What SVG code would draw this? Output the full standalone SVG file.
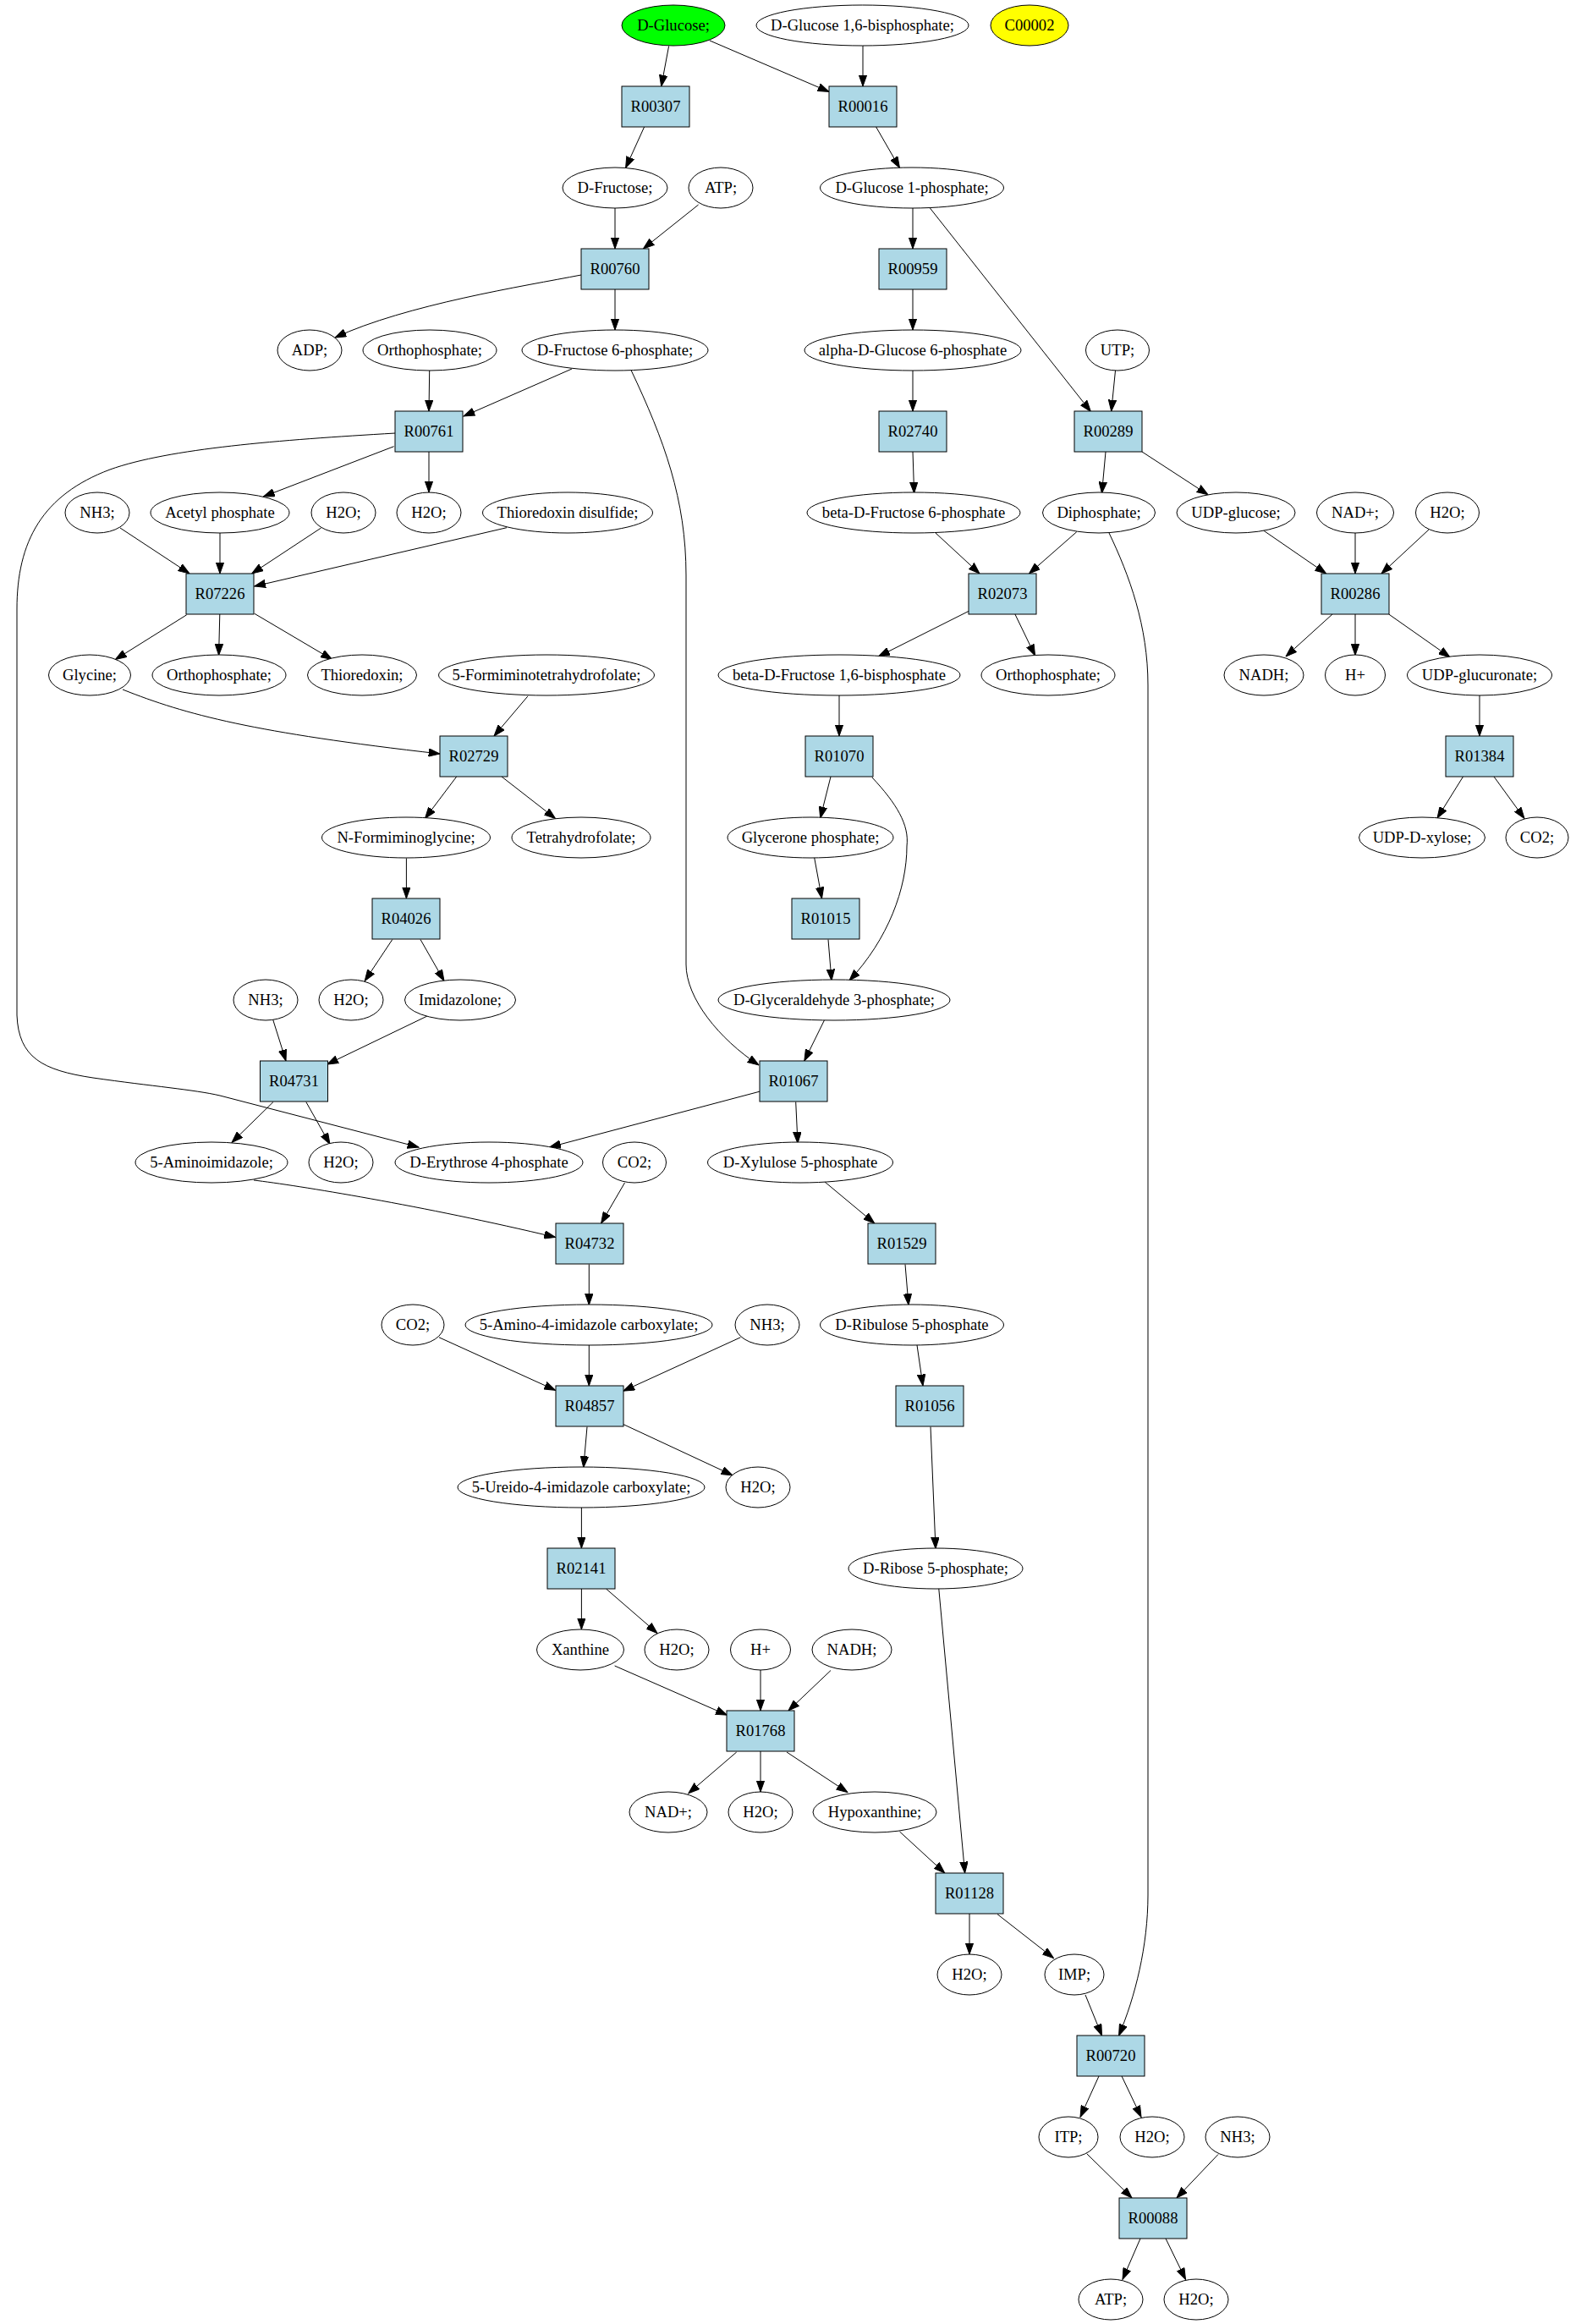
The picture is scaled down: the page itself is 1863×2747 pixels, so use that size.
<svg xmlns="http://www.w3.org/2000/svg" width="1863" height="2747" viewBox="0 0 1863 2747">
<style>
.node ellipse{fill:#ffffff;stroke:#000000;stroke-width:1}
.node rect{fill:#add8e6;stroke:#000000;stroke-width:1}
.node text{font-family:"Liberation Serif","Times New Roman",serif;font-size:18.6px;text-anchor:middle;fill:#000000}
#edges path{fill:none;stroke:#000000;stroke-width:1;marker-end:url(#ah)}
</style>
<defs>
<marker id="ah" markerWidth="14" markerHeight="10" refX="13.3" refY="5" orient="auto" markerUnits="userSpaceOnUse">
<path d="M0,0.3 L13.3,5 L0,9.7 z" fill="#000000" stroke="#000000" stroke-width="1"/>
</marker>
</defs>
<rect x="0" y="0" width="1863" height="2747" fill="#ffffff"/>
<g id="edges">
<path d="M790.6,54.5 L781.7,102"/>
<path d="M839,48 L980,108.5"/>
<path d="M1020,54 L1020,102"/>
<path d="M761.6,150 L739.6,198.5"/>
<path d="M1035.6,150 L1063.5,198.5"/>
<path d="M727,246 L727,294"/>
<path d="M825.6,242 L760.4,294"/>
<path d="M1079,246 L1079,294"/>
<path d="M1099,245.5 L1289.4,486.5"/>
<path d="M687,325 C620,338 480,360 396,399"/>
<path d="M727,342 L727,390"/>
<path d="M1079,342 L1079,390"/>
<path d="M1318.5,438 L1313.7,486"/>
<path d="M507.7,438 L507,486"/>
<path d="M676,436 L548,492"/>
<path d="M746,437.5 C785,520 811,590 811,680 L811,1140 C811,1180 850,1228 897,1259"/>
<path d="M1079,438 L1079,486"/>
<path d="M465.6,527.7 L311.4,587"/>
<path d="M507,534 L507,582"/>
<path d="M467.4,512 C330,520 200,530 130,555 C50,585 20,640 20,720 L20,1200 C22,1250 50,1265 110,1274 C180,1284 230,1288 260,1295 L495,1356"/>
<path d="M1079,534 L1080.6,583"/>
<path d="M1307,534 L1302.5,583"/>
<path d="M1350,534 L1428,584.8"/>
<path d="M142,624 L224,678"/>
<path d="M260,630 L260,678"/>
<path d="M379.6,624 L297.7,678"/>
<path d="M599,623.7 L300.7,693"/>
<path d="M1106,630 L1158,678"/>
<path d="M1272.8,628.6 L1216.5,678"/>
<path d="M1310.8,629.5 C1335,680 1357,740 1357,810 L1357,2240 C1357,2300 1342,2360 1322.6,2406"/>
<path d="M1493.5,627 L1567.6,678"/>
<path d="M1602,630 L1602,678"/>
<path d="M1689,626 L1633,678"/>
<path d="M220.6,726.8 L136.4,779.5"/>
<path d="M259.8,726 L258.6,774.5"/>
<path d="M301,725.4 L392.6,779.5"/>
<path d="M1145.3,722.3 L1038.5,775.9"/>
<path d="M1199.9,726 L1223.6,775"/>
<path d="M1575,726 L1520,775.9"/>
<path d="M1602,726 L1602,774.5"/>
<path d="M1641.7,726 L1714,776.8"/>
<path d="M145,815 C220,845 300,866 520,891"/>
<path d="M624,822.8 L584,870"/>
<path d="M992,821.4 L992,870"/>
<path d="M1749,821.4 L1749,870"/>
<path d="M539.7,918 L502.4,967.5"/>
<path d="M593,918 L656.6,967.5"/>
<path d="M982,918 L969.7,967"/>
<path d="M1030.8,918.8 C1060,950 1075,975 1072,1000 C1072,1050 1050,1110 1004,1159"/>
<path d="M1729.5,918 L1699,967"/>
<path d="M1766,918 L1802,967.5"/>
<path d="M480.4,1014.5 L480.4,1062"/>
<path d="M962.6,1013.4 L971.5,1062"/>
<path d="M463.8,1110.5 L431.2,1159.5"/>
<path d="M497,1110.5 L525,1159.5"/>
<path d="M979,1110.5 L983,1159"/>
<path d="M322.6,1205 L338,1254"/>
<path d="M505,1201 L386.7,1258"/>
<path d="M974.5,1205.8 L950.8,1254"/>
<path d="M323,1302.5 L274,1350.4"/>
<path d="M361.8,1302.5 L390,1352.5"/>
<path d="M898.6,1290 L649.5,1356"/>
<path d="M940.7,1302.5 L943,1351.5"/>
<path d="M300,1395 C350,1401 500,1425 656.6,1462.5"/>
<path d="M738.5,1398 L710.6,1446"/>
<path d="M975,1397 L1033.8,1446"/>
<path d="M696.3,1494.5 L696.3,1542.5"/>
<path d="M1070,1494.5 L1074,1542.5"/>
<path d="M519,1580.8 L656.6,1643.3"/>
<path d="M696.3,1590 L696.3,1638"/>
<path d="M875.4,1580.8 L736.7,1644.2"/>
<path d="M1084,1590 L1091,1638"/>
<path d="M694,1686.5 L689.8,1734.5"/>
<path d="M736.7,1683.5 L866,1743.75"/>
<path d="M1100,1686.5 L1106,1830.5"/>
<path d="M687.4,1782 L687.4,1830"/>
<path d="M687.4,1878 L687.4,1926"/>
<path d="M716.5,1878 L777,1930.4"/>
<path d="M726.6,1969 L859.4,2027.2"/>
<path d="M899,1974 L899,2022"/>
<path d="M982,1974.5 L932,2022"/>
<path d="M870.7,2071 L813.8,2119.8"/>
<path d="M899,2070 L899,2118"/>
<path d="M930,2071 L1002,2118.6"/>
<path d="M1109.7,1877 L1140.6,2214"/>
<path d="M1063.5,2165 L1116.8,2214"/>
<path d="M1146,2262 L1146,2310"/>
<path d="M1179,2262.6 L1245.5,2314.6"/>
<path d="M1283,2358 L1302.5,2406"/>
<path d="M1299,2454 L1277,2502.4"/>
<path d="M1326,2454 L1349,2502.4"/>
<path d="M1284.7,2545.7 L1338,2598"/>
<path d="M1440,2546.5 L1391,2598"/>
<path d="M1348,2646 L1327,2694.3"/>
<path d="M1378,2646 L1401.5,2694.3"/>
</g>
<g id="n_dglucose" class="node"><ellipse cx="796" cy="30" rx="61" ry="24" style="fill:#00ff00"/><text x="796" y="36">D-Glucose;</text></g>
<g id="n_dglc16bp" class="node"><ellipse cx="1019.5" cy="30" rx="125.5" ry="24"/><text x="1019.5" y="36">D-Glucose 1,6-bisphosphate;</text></g>
<g id="n_c00002" class="node"><ellipse cx="1217" cy="30" rx="46" ry="24" style="fill:#ffff00"/><text x="1217" y="36">C00002</text></g>
<g id="r_R00307" class="node"><rect x="735" y="102" width="80" height="48"/><text x="775" y="132">R00307</text></g>
<g id="r_R00016" class="node"><rect x="980" y="102" width="80" height="48"/><text x="1020" y="132">R00016</text></g>
<g id="n_dfructose" class="node"><ellipse cx="727" cy="222" rx="62" ry="24"/><text x="727" y="228">D-Fructose;</text></g>
<g id="n_atp_1" class="node"><ellipse cx="852" cy="222" rx="38" ry="24"/><text x="852" y="228">ATP;</text></g>
<g id="n_dglc1p" class="node"><ellipse cx="1078" cy="222" rx="108.5" ry="24"/><text x="1078" y="228">D-Glucose 1-phosphate;</text></g>
<g id="r_R00760" class="node"><rect x="687" y="294" width="80" height="48"/><text x="727" y="324">R00760</text></g>
<g id="r_R00959" class="node"><rect x="1039" y="294" width="80" height="48"/><text x="1079" y="324">R00959</text></g>
<g id="n_adp" class="node"><ellipse cx="366" cy="414" rx="38" ry="24"/><text x="366" y="420">ADP;</text></g>
<g id="n_ortho_1" class="node"><ellipse cx="508" cy="414" rx="79" ry="24"/><text x="508" y="420">Orthophosphate;</text></g>
<g id="n_dfru6p" class="node"><ellipse cx="727" cy="414" rx="110" ry="24"/><text x="727" y="420">D-Fructose 6-phosphate;</text></g>
<g id="n_adglc6p" class="node"><ellipse cx="1079" cy="414" rx="128" ry="24"/><text x="1079" y="420">alpha-D-Glucose 6-phosphate</text></g>
<g id="n_utp" class="node"><ellipse cx="1321" cy="414" rx="37.5" ry="24"/><text x="1321" y="420">UTP;</text></g>
<g id="r_R00761" class="node"><rect x="467" y="486" width="80" height="48"/><text x="507" y="516">R00761</text></g>
<g id="r_R02740" class="node"><rect x="1039" y="486" width="80" height="48"/><text x="1079" y="516">R02740</text></g>
<g id="r_R00289" class="node"><rect x="1270" y="486" width="80" height="48"/><text x="1310" y="516">R00289</text></g>
<g id="n_nh3_1" class="node"><ellipse cx="115" cy="606" rx="38" ry="24"/><text x="115" y="612">NH3;</text></g>
<g id="n_acetylp" class="node"><ellipse cx="260" cy="606" rx="82" ry="24"/><text x="260" y="612">Acetyl phosphate</text></g>
<g id="n_h2o_1" class="node"><ellipse cx="406" cy="606" rx="38" ry="24"/><text x="406" y="612">H2O;</text></g>
<g id="n_h2o_2" class="node"><ellipse cx="507" cy="606" rx="38" ry="24"/><text x="507" y="612">H2O;</text></g>
<g id="n_thiodis" class="node"><ellipse cx="671" cy="606" rx="100.5" ry="24"/><text x="671" y="612">Thioredoxin disulfide;</text></g>
<g id="n_bfru6p" class="node"><ellipse cx="1080" cy="606" rx="126" ry="24"/><text x="1080" y="612">beta-D-Fructose 6-phosphate</text></g>
<g id="n_diphos" class="node"><ellipse cx="1299" cy="606" rx="66.5" ry="24"/><text x="1299" y="612">Diphosphate;</text></g>
<g id="n_udpglc" class="node"><ellipse cx="1461" cy="606" rx="70" ry="24"/><text x="1461" y="612">UDP-glucose;</text></g>
<g id="n_nadp_1" class="node"><ellipse cx="1602" cy="606" rx="45.5" ry="24"/><text x="1602" y="612">NAD+;</text></g>
<g id="n_h2o_3" class="node"><ellipse cx="1711" cy="606" rx="37.5" ry="24"/><text x="1711" y="612">H2O;</text></g>
<g id="r_R07226" class="node"><rect x="220" y="678" width="80" height="48"/><text x="260" y="708">R07226</text></g>
<g id="r_R02073" class="node"><rect x="1145" y="678" width="80" height="48"/><text x="1185" y="708">R02073</text></g>
<g id="r_R00286" class="node"><rect x="1562" y="678" width="80" height="48"/><text x="1602" y="708">R00286</text></g>
<g id="n_glycine" class="node"><ellipse cx="106" cy="798" rx="48.5" ry="24"/><text x="106" y="804">Glycine;</text></g>
<g id="n_ortho_2" class="node"><ellipse cx="259" cy="798" rx="79" ry="24"/><text x="259" y="804">Orthophosphate;</text></g>
<g id="n_thioredoxin" class="node"><ellipse cx="428" cy="798" rx="64.5" ry="24"/><text x="428" y="804">Thioredoxin;</text></g>
<g id="n_5fthf" class="node"><ellipse cx="646" cy="798" rx="127.5" ry="24"/><text x="646" y="804">5-Formiminotetrahydrofolate;</text></g>
<g id="n_bfru16bp" class="node"><ellipse cx="992" cy="798" rx="143" ry="24"/><text x="992" y="804">beta-D-Fructose 1,6-bisphosphate</text></g>
<g id="n_ortho_3" class="node"><ellipse cx="1239" cy="798" rx="79" ry="24"/><text x="1239" y="804">Orthophosphate;</text></g>
<g id="n_nadh_1" class="node"><ellipse cx="1494" cy="798" rx="47" ry="24"/><text x="1494" y="804">NADH;</text></g>
<g id="n_hplus_1" class="node"><ellipse cx="1602" cy="798" rx="35.5" ry="24"/><text x="1602" y="804">H+</text></g>
<g id="n_udpglca" class="node"><ellipse cx="1749" cy="798" rx="85.5" ry="24"/><text x="1749" y="804">UDP-glucuronate;</text></g>
<g id="r_R02729" class="node"><rect x="520" y="870" width="80" height="48"/><text x="560" y="900">R02729</text></g>
<g id="r_R01070" class="node"><rect x="952" y="870" width="80" height="48"/><text x="992" y="900">R01070</text></g>
<g id="r_R01384" class="node"><rect x="1709" y="870" width="80" height="48"/><text x="1749" y="900">R01384</text></g>
<g id="n_nfg" class="node"><ellipse cx="480" cy="990" rx="99.5" ry="24"/><text x="480" y="996">N-Formiminoglycine;</text></g>
<g id="n_thf" class="node"><ellipse cx="687" cy="990" rx="82" ry="24"/><text x="687" y="996">Tetrahydrofolate;</text></g>
<g id="n_glycerone" class="node"><ellipse cx="958" cy="990" rx="98" ry="24"/><text x="958" y="996">Glycerone phosphate;</text></g>
<g id="n_udpxyl" class="node"><ellipse cx="1681" cy="990" rx="74.5" ry="24"/><text x="1681" y="996">UDP-D-xylose;</text></g>
<g id="n_co2_1" class="node"><ellipse cx="1817" cy="990" rx="37" ry="24"/><text x="1817" y="996">CO2;</text></g>
<g id="r_R04026" class="node"><rect x="440" y="1062" width="80" height="48"/><text x="480" y="1092">R04026</text></g>
<g id="r_R01015" class="node"><rect x="936" y="1062" width="80" height="48"/><text x="976" y="1092">R01015</text></g>
<g id="n_nh3_2" class="node"><ellipse cx="314" cy="1182" rx="38" ry="24"/><text x="314" y="1188">NH3;</text></g>
<g id="n_h2o_4" class="node"><ellipse cx="415" cy="1182" rx="38" ry="24"/><text x="415" y="1188">H2O;</text></g>
<g id="n_imidazolone" class="node"><ellipse cx="544" cy="1182" rx="65.5" ry="24"/><text x="544" y="1188">Imidazolone;</text></g>
<g id="n_dga3p" class="node"><ellipse cx="986" cy="1182" rx="137" ry="24"/><text x="986" y="1188">D-Glyceraldehyde 3-phosphate;</text></g>
<g id="r_R04731" class="node"><rect x="307.5" y="1254" width="80" height="48"/><text x="347.5" y="1284">R04731</text></g>
<g id="r_R01067" class="node"><rect x="898" y="1254" width="80" height="48"/><text x="938" y="1284">R01067</text></g>
<g id="n_5ai" class="node"><ellipse cx="250" cy="1374" rx="90" ry="24"/><text x="250" y="1380">5-Aminoimidazole;</text></g>
<g id="n_h2o_5" class="node"><ellipse cx="403" cy="1374" rx="38" ry="24"/><text x="403" y="1380">H2O;</text></g>
<g id="n_der4p" class="node"><ellipse cx="578" cy="1374" rx="111" ry="24"/><text x="578" y="1380">D-Erythrose 4-phosphate</text></g>
<g id="n_co2_2" class="node"><ellipse cx="750" cy="1374" rx="37.5" ry="24"/><text x="750" y="1380">CO2;</text></g>
<g id="n_dxyl5p" class="node"><ellipse cx="946" cy="1374" rx="109.5" ry="24"/><text x="946" y="1380">D-Xylulose 5-phosphate</text></g>
<g id="r_R04732" class="node"><rect x="657" y="1446" width="80" height="48"/><text x="697" y="1476">R04732</text></g>
<g id="r_R01529" class="node"><rect x="1026" y="1446" width="80" height="48"/><text x="1066" y="1476">R01529</text></g>
<g id="n_co2_3" class="node"><ellipse cx="488" cy="1566" rx="37" ry="24"/><text x="488" y="1572">CO2;</text></g>
<g id="n_5a4ic" class="node"><ellipse cx="696" cy="1566" rx="146" ry="24"/><text x="696" y="1572">5-Amino-4-imidazole carboxylate;</text></g>
<g id="n_nh3_3" class="node"><ellipse cx="907" cy="1566" rx="38" ry="24"/><text x="907" y="1572">NH3;</text></g>
<g id="n_dribulose" class="node"><ellipse cx="1078" cy="1566" rx="108.5" ry="24"/><text x="1078" y="1572">D-Ribulose 5-phosphate</text></g>
<g id="r_R04857" class="node"><rect x="657" y="1638" width="80" height="48"/><text x="697" y="1668">R04857</text></g>
<g id="r_R01056" class="node"><rect x="1059" y="1638" width="80" height="48"/><text x="1099" y="1668">R01056</text></g>
<g id="n_5u4ic" class="node"><ellipse cx="687" cy="1758" rx="146" ry="24"/><text x="687" y="1764">5-Ureido-4-imidazole carboxylate;</text></g>
<g id="n_h2o_6" class="node"><ellipse cx="896" cy="1758" rx="38" ry="24"/><text x="896" y="1764">H2O;</text></g>
<g id="r_R02141" class="node"><rect x="647" y="1830" width="80" height="48"/><text x="687" y="1860">R02141</text></g>
<g id="n_dribose" class="node"><ellipse cx="1106" cy="1854" rx="103" ry="24"/><text x="1106" y="1860">D-Ribose 5-phosphate;</text></g>
<g id="n_xanthine" class="node"><ellipse cx="686" cy="1950" rx="51.5" ry="24"/><text x="686" y="1956">Xanthine</text></g>
<g id="n_h2o_7" class="node"><ellipse cx="800" cy="1950" rx="38" ry="24"/><text x="800" y="1956">H2O;</text></g>
<g id="n_hplus_2" class="node"><ellipse cx="899" cy="1950" rx="35.5" ry="24"/><text x="899" y="1956">H+</text></g>
<g id="n_nadh_2" class="node"><ellipse cx="1007" cy="1950" rx="47" ry="24"/><text x="1007" y="1956">NADH;</text></g>
<g id="r_R01768" class="node"><rect x="859" y="2022" width="80" height="48"/><text x="899" y="2052">R01768</text></g>
<g id="n_nadp_2" class="node"><ellipse cx="790" cy="2142" rx="46" ry="24"/><text x="790" y="2148">NAD+;</text></g>
<g id="n_h2o_8" class="node"><ellipse cx="899" cy="2142" rx="38" ry="24"/><text x="899" y="2148">H2O;</text></g>
<g id="n_hypox" class="node"><ellipse cx="1034" cy="2142" rx="73" ry="24"/><text x="1034" y="2148">Hypoxanthine;</text></g>
<g id="r_R01128" class="node"><rect x="1106" y="2214" width="80" height="48"/><text x="1146" y="2244">R01128</text></g>
<g id="n_h2o_9" class="node"><ellipse cx="1146" cy="2334" rx="38" ry="24"/><text x="1146" y="2340">H2O;</text></g>
<g id="n_imp" class="node"><ellipse cx="1270" cy="2334" rx="35" ry="24"/><text x="1270" y="2340">IMP;</text></g>
<g id="r_R00720" class="node"><rect x="1273" y="2406" width="80" height="48"/><text x="1313" y="2436">R00720</text></g>
<g id="n_itp" class="node"><ellipse cx="1263" cy="2526" rx="35" ry="24"/><text x="1263" y="2532">ITP;</text></g>
<g id="n_h2o_10" class="node"><ellipse cx="1362" cy="2526" rx="38" ry="24"/><text x="1362" y="2532">H2O;</text></g>
<g id="n_nh3_4" class="node"><ellipse cx="1463" cy="2526" rx="38" ry="24"/><text x="1463" y="2532">NH3;</text></g>
<g id="r_R00088" class="node"><rect x="1323" y="2598" width="80" height="48"/><text x="1363" y="2628">R00088</text></g>
<g id="n_atp_2" class="node"><ellipse cx="1313" cy="2718" rx="38" ry="24"/><text x="1313" y="2724">ATP;</text></g>
<g id="n_h2o_11" class="node"><ellipse cx="1414" cy="2718" rx="38" ry="24"/><text x="1414" y="2724">H2O;</text></g>
</svg>
